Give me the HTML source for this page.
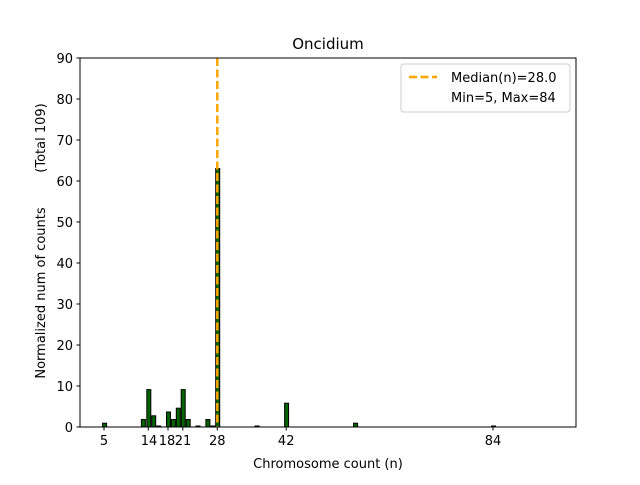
<!DOCTYPE html><html><head><style>body{margin:0;background:#fff}svg text{font-family:"DejaVu Sans","Liberation Sans",sans-serif;fill:#000}</style></head><body>
<svg width="640" height="480" viewBox="0 0 640 480" xmlns="http://www.w3.org/2000/svg">
<rect width="640" height="480" fill="#fff"/>
<g fill="#006400" stroke="#000" stroke-width="1">
<rect x="102.6" y="423.2" width="4" height="3.8"/>
<rect x="141.4" y="419.5" width="4" height="7.5"/>
<rect x="146.8" y="389.6" width="4" height="37.4"/>
<rect x="151.7" y="415.8" width="4" height="11.2"/>
<rect x="156.6" y="426" width="4" height="1"/>
<rect x="166.5" y="412" width="4" height="15"/>
<rect x="171.4" y="419.5" width="4" height="7.5"/>
<rect x="176.3" y="408.2" width="4" height="18.8"/>
<rect x="181.2" y="389.6" width="4" height="37.4"/>
<rect x="186.2" y="419.5" width="4" height="7.5"/>
<rect x="196" y="426" width="4" height="1"/>
<rect x="205.9" y="419.5" width="4" height="7.5"/>
<rect x="210.8" y="426" width="4" height="1"/>
<rect x="215.7" y="168.5" width="4" height="258.5"/>
<rect x="255.1" y="426" width="4" height="1"/>
<rect x="284.6" y="403.2" width="4" height="23.8"/>
<rect x="353.6" y="423.2" width="4" height="3.8"/>
<rect x="491.5" y="426" width="4" height="1"/>
</g>
<line x1="217.3" y1="58" x2="217.3" y2="427" stroke="#ffa500" stroke-width="2.5" stroke-dasharray="8,3.5"/>
<rect x="80" y="58" width="496" height="369" fill="none" stroke="#000" stroke-width="1"/>
<g stroke="#000" stroke-width="1">
<line x1="80" y1="427" x2="76.5" y2="427"/><line x1="80" y1="386" x2="76.5" y2="386"/><line x1="80" y1="345" x2="76.5" y2="345"/><line x1="80" y1="304" x2="76.5" y2="304"/><line x1="80" y1="263" x2="76.5" y2="263"/><line x1="80" y1="222" x2="76.5" y2="222"/><line x1="80" y1="181" x2="76.5" y2="181"/><line x1="80" y1="140" x2="76.5" y2="140"/><line x1="80" y1="99" x2="76.5" y2="99"/><line x1="80" y1="58" x2="76.5" y2="58"/>
<line x1="104" y1="427" x2="104" y2="430.5"/><line x1="148.3" y1="427" x2="148.3" y2="430.5"/><line x1="168" y1="427" x2="168" y2="430.5"/><line x1="182.8" y1="427" x2="182.8" y2="430.5"/><line x1="217.3" y1="427" x2="217.3" y2="430.5"/><line x1="286.2" y1="427" x2="286.2" y2="430.5"/><line x1="493" y1="427" x2="493" y2="430.5"/>
</g>
<g font-size="13" text-anchor="end">
<text x="73" y="432">0</text><text x="73" y="391">10</text><text x="73" y="350">20</text><text x="73" y="309">30</text><text x="73" y="268">40</text><text x="73" y="227">50</text><text x="73" y="186">60</text><text x="73" y="145">70</text><text x="73" y="104">80</text><text x="73" y="63">90</text>
</g>
<g font-size="13" text-anchor="middle">
<text x="104" y="445">5</text><text x="149" y="445">14</text><text x="167" y="445">18</text><text x="183" y="445">21</text><text x="217.3" y="445">28</text><text x="286.2" y="445">42</text><text x="493" y="445">84</text>
<text x="328" y="468">Chromosome count (n)</text>
<text x="328" y="49" font-size="15">Oncidium</text>
<text transform="translate(45,293) rotate(-90)">Normalized num of counts</text>
<text transform="translate(45,138) rotate(-90)">(Total 109)</text>
</g>
<rect x="401" y="64" width="169" height="48" rx="3" fill="#fff" stroke="#ccc"/>
<line x1="409" y1="77" x2="437" y2="77" stroke="#ffa500" stroke-width="2.5" stroke-dasharray="8,3.5"/>
<g font-size="13"><text x="451" y="82">Median(n)=28.0</text><text x="451" y="102">Min=5, Max=84</text></g>
</svg></body></html>
